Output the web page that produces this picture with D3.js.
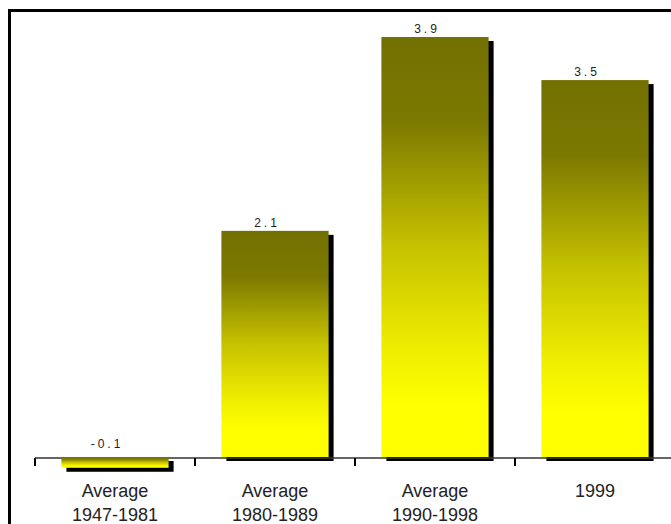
<!DOCTYPE html>
<html>
<head>
<meta charset="utf-8">
<script src="https://cdn.jsdelivr.net/npm/d3@7"></script>
<style>
  html, body { margin: 0; padding: 0; background: #fff; overflow: hidden; }
  svg { display: block; }
  text { font-family: "Liberation Sans", Arial, sans-serif; fill: #222; }
</style>
</head>
<body>
<svg id="chart" width="671" height="524"></svg>
<script>
// Category labels (two lines where needed) and their values
const categories = ["Average|1947-1981", "Average|1980-1989", "Average|1990-1998", "1999"];
const values = [-0.1, 2.1, 3.9, 3.5];
const valueLabels = ["-0.1", "2.1", "3.9", "3.5"];

const svg = d3.select("#chart");
const W = 671, H = 524;

// Outer frame (runs off the right and bottom edges)
svg.append("rect")
  .attr("x", 9.5).attr("y", 10.5)
  .attr("width", 700).attr("height", 600)
  .attr("fill", "none").attr("stroke", "#000").attr("stroke-width", 3);

// Yellow-to-olive vertical gradient
const defs = svg.append("defs");
const grad = defs.append("linearGradient")
  .attr("id", "barGrad").attr("x1", 0).attr("y1", 0).attr("x2", 0).attr("y2", 1);
[[0, "#727000"], [0.2, "#7c7900"], [0.5, "#c6c200"], [0.75, "#f0ee00"], [0.88, "#ffff00"], [1, "#ffff00"]]
  .forEach(([o, c]) => grad.append("stop").attr("offset", o).attr("stop-color", c));

const x = d3.scaleBand().domain(categories).range([35, 675]).padding(0);
const y = d3.scaleLinear().domain([0, 3.9]).range([457, 37]);
const barW = x.bandwidth() * 0.67;
const bx = d => x(d) + (x.bandwidth() - barW) / 2;

const data = categories.map((c, i) => ({ c, v: values[i], label: valueLabels[i] }));

// Drop shadows
svg.append("g").selectAll("rect").data(data).join("rect")
  .attr("x", d => bx(d.c) + 5)
  .attr("y", d => Math.min(y(d.v), y(0)) + 4)
  .attr("width", barW)
  .attr("height", d => Math.abs(y(d.v) - y(0)))
  .attr("fill", "#000");

// Axis line and category boundary ticks
const axisY = 458;
svg.append("line")
  .attr("x1", x.range()[0]).attr("x2", W)
  .attr("y1", axisY).attr("y2", axisY)
  .attr("stroke", "#333").attr("stroke-width", 1.5);
svg.append("g").selectAll("line").data(categories).join("line")
  .attr("x1", d => x(d)).attr("x2", d => x(d))
  .attr("y1", axisY).attr("y2", axisY + 8)
  .attr("stroke", "#000").attr("stroke-width", 2);

// Bars
svg.append("g").selectAll("rect").data(data).join("rect")
  .attr("x", d => bx(d.c))
  .attr("y", d => Math.min(y(d.v), y(0)))
  .attr("width", barW)
  .attr("height", d => Math.abs(y(d.v) - y(0)))
  .attr("fill", "url(#barGrad)");

// Value labels
svg.append("g").selectAll("text").data(data).join("text")
  .attr("x", d => bx(d.c) + barW / 2 - 8)
  .attr("y", d => y(Math.max(d.v, 0)) - (d.v < 0 ? 9 : 4))
  .attr("text-anchor", "middle")
  .attr("font-size", 12)
  .attr("letter-spacing", 3)
  .text(d => d.label);

// Category labels
const cat = svg.append("g").selectAll("text").data(categories).join("text")
  .attr("x", d => x(d) + x.bandwidth() / 2)
  .attr("y", 497)
  .attr("text-anchor", "middle")
  .attr("font-size", 18);
cat.selectAll("tspan").data(d => d.split("|")).join("tspan")
  .attr("x", function() { return d3.select(this.parentNode).attr("x"); })
  .attr("dy", (d, i) => i === 0 ? 0 : 24)
  .text(d => d);
</script>
</body>
</html>
